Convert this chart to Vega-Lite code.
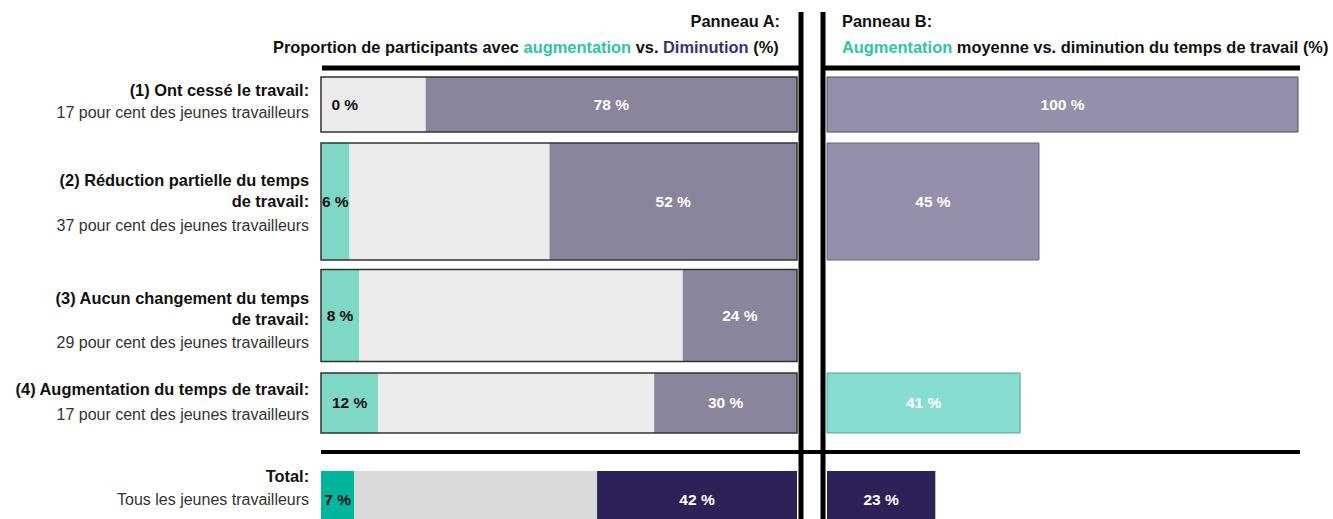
{
"$schema": "https://vega.github.io/schema/vega-lite/v6.json",
"padding": 0,
"spacing": 0,
"bounds": "flush",
"background": "white",
"config": {"view": {"stroke": null}, "font": "Liberation Sans, Arial, sans-serif", "concat": {"spacing": 0}},
"datasets": {
 "panelA": [
  {"row": "1", "cat": "Augmentation", "value": 0}, {"row": "1", "cat": "Aucun changement", "value": 22}, {"row": "1", "cat": "Diminution", "value": 78},
  {"row": "2", "cat": "Augmentation", "value": 6}, {"row": "2", "cat": "Aucun changement", "value": 42}, {"row": "2", "cat": "Diminution", "value": 52},
  {"row": "3", "cat": "Augmentation", "value": 8}, {"row": "3", "cat": "Aucun changement", "value": 68}, {"row": "3", "cat": "Diminution", "value": 24},
  {"row": "4", "cat": "Augmentation", "value": 12}, {"row": "4", "cat": "Aucun changement", "value": 58}, {"row": "4", "cat": "Diminution", "value": 30},
  {"row": "T", "cat": "Augmentation", "value": 7}, {"row": "T", "cat": "Aucun changement", "value": 51}, {"row": "T", "cat": "Diminution", "value": 42}
 ],
 "panelB": [
  {"row": "1", "cat": "Diminution", "value": 100},
  {"row": "2", "cat": "Diminution", "value": 45},
  {"row": "4", "cat": "Augmentation", "value": 41},
  {"row": "T", "cat": "Diminution", "value": 23}
 ],
 "labels": [
  {"row": "1", "title": "(1)  Ont cessé le travail:", "sub": "17 pour cent des jeunes travailleurs"},
  {"row": "2", "title": "(2) Réduction partielle du temps\nde travail:", "sub": "37 pour cent des jeunes travailleurs"},
  {"row": "3", "title": "(3) Aucun changement du temps\nde travail:", "sub": "29 pour cent des jeunes travailleurs"},
  {"row": "4", "title": "(4) Augmentation du temps de travail:", "sub": "17 pour cent des jeunes travailleurs"},
  {"row": "T", "title": "Total:", "sub": "Tous les jeunes travailleurs"}
 ]
},
"vconcat": [
 {
  "width": 1333, "height": 65,
  "resolve": {"scale": {"x": "independent"}},
  "layer": [
   {"data": {"values": [{}]}, "mark": {"type": "text", "text": "Panneau A:", "align": "right", "baseline": "middle", "fontSize": 16.4, "fontWeight": "bold", "color": "#111111"},
    "encoding": {"x": {"datum": 96.43, "type": "quantitative", "scale": {"domain": [-67.437, 212.605], "nice": false, "zero": false}, "axis": null}, "y": {"datum": 22, "type": "quantitative", "scale": {"domain": [0, 65], "reverse": true, "nice": false, "zero": false}, "axis": null}}},
   {"data": {"values": [{}]}, "mark": {"type": "text", "text": "Proportion de participants avec", "align": "left", "baseline": "middle", "fontSize": 16.4, "fontWeight": "bold", "color": "#111111"},
    "encoding": {"x": {"datum": -10.08, "type": "quantitative", "scale": {"domain": [-67.437, 212.605], "nice": false, "zero": false}, "axis": null}, "y": {"datum": 48, "type": "quantitative", "scale": {"domain": [0, 65], "reverse": true, "nice": false, "zero": false}, "axis": null}}},
   {"data": {"values": [{}]}, "mark": {"type": "text", "text": "augmentation", "align": "left", "baseline": "middle", "fontSize": 16.4, "fontWeight": "bold", "color": "#2fc4a8"},
    "encoding": {"x": {"datum": 42.56, "type": "quantitative", "scale": {"domain": [-67.437, 212.605], "nice": false, "zero": false}, "axis": null}, "y": {"datum": 48, "type": "quantitative", "scale": {"domain": [0, 65], "reverse": true, "nice": false, "zero": false}, "axis": null}}},
   {"data": {"values": [{}]}, "mark": {"type": "text", "text": "vs.", "align": "left", "baseline": "middle", "fontSize": 16.4, "fontWeight": "bold", "color": "#111111"},
    "encoding": {"x": {"datum": 66.11, "type": "quantitative", "scale": {"domain": [-67.437, 212.605], "nice": false, "zero": false}, "axis": null}, "y": {"datum": 48, "type": "quantitative", "scale": {"domain": [0, 65], "reverse": true, "nice": false, "zero": false}, "axis": null}}},
   {"data": {"values": [{}]}, "mark": {"type": "text", "text": "Diminution", "align": "left", "baseline": "middle", "fontSize": 16.4, "fontWeight": "bold", "color": "#3d3170"},
    "encoding": {"x": {"datum": 71.85, "type": "quantitative", "scale": {"domain": [-67.437, 212.605], "nice": false, "zero": false}, "axis": null}, "y": {"datum": 48, "type": "quantitative", "scale": {"domain": [0, 65], "reverse": true, "nice": false, "zero": false}, "axis": null}}},
   {"data": {"values": [{}]}, "mark": {"type": "text", "text": "(%)", "align": "left", "baseline": "middle", "fontSize": 16.4, "fontWeight": "bold", "color": "#111111"},
    "encoding": {"x": {"datum": 90.8, "type": "quantitative", "scale": {"domain": [-67.437, 212.605], "nice": false, "zero": false}, "axis": null}, "y": {"datum": 48, "type": "quantitative", "scale": {"domain": [0, 65], "reverse": true, "nice": false, "zero": false}, "axis": null}}},
   {"data": {"values": [{}]}, "mark": {"type": "text", "text": "Panneau B:", "align": "left", "baseline": "middle", "fontSize": 16.4, "fontWeight": "bold", "color": "#111111"},
    "encoding": {"x": {"datum": 3.18, "type": "quantitative", "scale": {"domain": [-175.584, 107.431], "nice": false, "zero": false}, "axis": null}, "y": {"datum": 22, "type": "quantitative", "scale": {"domain": [0, 65], "reverse": true, "nice": false, "zero": false}, "axis": null}}},
   {"data": {"values": [{}]}, "mark": {"type": "text", "text": "Augmentation", "align": "left", "baseline": "middle", "fontSize": 16.4, "fontWeight": "bold", "color": "#2fc4a8"},
    "encoding": {"x": {"datum": 3.18, "type": "quantitative", "scale": {"domain": [-175.584, 107.431], "nice": false, "zero": false}, "axis": null}, "y": {"datum": 48, "type": "quantitative", "scale": {"domain": [0, 65], "reverse": true, "nice": false, "zero": false}, "axis": null}}},
   {"data": {"values": [{}]}, "mark": {"type": "text", "text": "moyenne vs. diminution du temps de travail (%)", "align": "left", "baseline": "middle", "fontSize": 16.4, "fontWeight": "bold", "color": "#111111"},
    "encoding": {"x": {"datum": 27.56, "type": "quantitative", "scale": {"domain": [-175.584, 107.431], "nice": false, "zero": false}, "axis": null}, "y": {"datum": 48, "type": "quantitative", "scale": {"domain": [0, 65], "reverse": true, "nice": false, "zero": false}, "axis": null}}},
   {"data": {"values": [{}]}, "mark": {"type": "rule", "color": "#000000", "strokeWidth": 5},
    "encoding": {"x": {"datum": 100.84, "type": "quantitative", "scale": {"domain": [-67.437, 212.605], "nice": false, "zero": false}, "axis": null}, "y": {"datum": 12, "type": "quantitative", "scale": {"domain": [0, 65], "reverse": true, "nice": false, "zero": false}, "axis": null}, "y2": {"datum": 65}}},
   {"data": {"values": [{}]}, "mark": {"type": "rule", "color": "#000000", "strokeWidth": 5},
    "encoding": {"x": {"datum": -0.85, "type": "quantitative", "scale": {"domain": [-175.584, 107.431], "nice": false, "zero": false}, "axis": null}, "y": {"datum": 12, "type": "quantitative", "scale": {"domain": [0, 65], "reverse": true, "nice": false, "zero": false}, "axis": null}, "y2": {"datum": 65}}}
  ]
 },
 {
  "width": 1333, "height": 6,
  "resolve": {"scale": {"x": "independent"}},
  "layer": [
   {"data": {"values": [{}]}, "mark": {"type": "rule", "color": "#000000", "strokeWidth": 5},
    "encoding": {"x": {"datum": 0.2, "type": "quantitative", "scale": {"domain": [-67.437, 212.605], "nice": false, "zero": false}, "axis": null}, "x2": {"datum": 100.8}}},
   {"data": {"values": [{}]}, "mark": {"type": "rule", "color": "#000000", "strokeWidth": 5},
    "encoding": {"x": {"datum": -1.06, "type": "quantitative", "scale": {"domain": [-175.584, 107.431], "nice": false, "zero": false}, "axis": null}, "x2": {"datum": 100.42}}},
   {"data": {"values": [{}]}, "mark": {"type": "rule", "color": "#000000", "strokeWidth": 5},
    "encoding": {"x": {"datum": 100.84, "type": "quantitative", "scale": {"domain": [-67.437, 212.605], "nice": false, "zero": false}, "axis": null}}},
   {"data": {"values": [{}]}, "mark": {"type": "rule", "color": "#000000", "strokeWidth": 5},
    "encoding": {"x": {"datum": -0.85, "type": "quantitative", "scale": {"domain": [-175.584, 107.431], "nice": false, "zero": false}, "axis": null}}}
  ]
 },
 {
  "width": 1333, "height": 67,
  "resolve": {"scale": {"x": "independent", "color": "independent"}},
  "layer": [
   {"data": {"name": "panelA"}, "transform": [{"filter": "datum.row == '1'"}, {"calculate": "indexof(['Augmentation','Aucun changement','Diminution'], datum.cat)", "as": "k"}],
    "mark": {"type": "bar"},
    "encoding": {"x": {"field": "value", "type": "quantitative", "stack": "zero", "scale": {"domain": [-67.437, 212.605], "nice": false, "zero": false}, "axis": null},
     "y": {"field": "row", "type": "nominal", "axis": null, "scale": {"paddingInner": 0, "paddingOuter": 0.109}},
     "color": {"field": "cat", "type": "nominal", "legend": null, "scale": {"domain": ["Augmentation", "Aucun changement", "Diminution"], "range": ["#7fd7c5", "#ebebeb", "#8a849d"]}},
     "order": {"field": "k", "type": "quantitative"}}},
   {"data": {"name": "labels"}, "transform": [{"filter": "datum.row == '1'"}],
    "mark": {"type": "bar", "fillOpacity": 0, "stroke": "#333333", "strokeWidth": 1.5},
    "encoding": {"x": {"datum": 0, "type": "quantitative", "scale": {"domain": [-67.437, 212.605], "nice": false, "zero": false}, "axis": null}, "x2": {"datum": 100},
     "y": {"field": "row", "type": "nominal", "axis": null, "scale": {"paddingInner": 0, "paddingOuter": 0.109}}}},
   {"data": {"name": "panelA"}, "transform": [{"filter": "datum.row == '1' && datum.cat == 'Augmentation'"}, {"calculate": "datum.value == 0 ? 5 : datum.value / 2", "as": "pos"}, {"calculate": "datum.value + ' %'", "as": "lab"}],
    "mark": {"type": "text", "fontSize": 15.5, "fontWeight": "bold", "color": "#111111", "baseline": "middle"},
    "encoding": {"x": {"field": "pos", "type": "quantitative", "scale": {"domain": [-67.437, 212.605], "nice": false, "zero": false}, "axis": null},
     "y": {"field": "row", "type": "nominal", "axis": null, "scale": {"paddingInner": 0, "paddingOuter": 0.109}}, "text": {"field": "lab", "type": "nominal"}}},
   {"data": {"name": "panelA"}, "transform": [{"filter": "datum.row == '1' && datum.cat == 'Diminution'"}, {"calculate": "100 - datum.value / 2", "as": "pos"}, {"calculate": "datum.value + ' %'", "as": "lab"}],
    "mark": {"type": "text", "fontSize": 15.5, "fontWeight": "bold", "color": "#ffffff", "baseline": "middle"},
    "encoding": {"x": {"field": "pos", "type": "quantitative", "scale": {"domain": [-67.437, 212.605], "nice": false, "zero": false}, "axis": null},
     "y": {"field": "row", "type": "nominal", "axis": null, "scale": {"paddingInner": 0, "paddingOuter": 0.109}}, "text": {"field": "lab", "type": "nominal"}}},
   {"data": {"name": "labels"}, "transform": [{"filter": "datum.row == '1'"}],
    "mark": {"type": "text", "align": "right", "baseline": "middle", "fontSize": 16.4, "fontWeight": "bold", "color": "#111111", "lineBreak": "\n", "lineHeight": 21, "dy": -13.5},
    "encoding": {"x": {"datum": -2.5, "type": "quantitative", "scale": {"domain": [-67.437, 212.605], "nice": false, "zero": false}, "axis": null},
     "y": {"field": "row", "type": "nominal", "axis": null, "scale": {"paddingInner": 0, "paddingOuter": 0.109}}, "text": {"field": "title", "type": "nominal"}}},
   {"data": {"name": "labels"}, "transform": [{"filter": "datum.row == '1'"}],
    "mark": {"type": "text", "align": "right", "baseline": "middle", "fontSize": 16, "color": "#333333", "dy": 8.5},
    "encoding": {"x": {"datum": -2.5, "type": "quantitative", "scale": {"domain": [-67.437, 212.605], "nice": false, "zero": false}, "axis": null},
     "y": {"field": "row", "type": "nominal", "axis": null, "scale": {"paddingInner": 0, "paddingOuter": 0.109}}, "text": {"field": "sub", "type": "nominal"}}},
   {"data": {"name": "panelB"}, "transform": [{"filter": "datum.row == '1'"}],
    "mark": {"type": "bar", "stroke": "#4f4a6e", "strokeWidth": 1},
    "encoding": {"x": {"field": "value", "type": "quantitative", "scale": {"domain": [-175.584, 107.431], "nice": false, "zero": false}, "axis": null},
     "y": {"field": "row", "type": "nominal", "axis": null, "scale": {"paddingInner": 0, "paddingOuter": 0.109}},
     "color": {"field": "cat", "type": "nominal", "legend": null, "scale": {"domain": ["Augmentation", "Diminution"], "range": ["#86ddd0", "#958fab"]}}}},
   {"data": {"name": "panelB"}, "transform": [{"filter": "datum.row == '1'"}, {"calculate": "datum.value / 2", "as": "pos"}, {"calculate": "datum.value + ' %'", "as": "lab"}],
    "mark": {"type": "text", "fontSize": 15.5, "fontWeight": "bold", "color": "#ffffff", "baseline": "middle"},
    "encoding": {"x": {"field": "pos", "type": "quantitative", "scale": {"domain": [-175.584, 107.431], "nice": false, "zero": false}, "axis": null},
     "y": {"field": "row", "type": "nominal", "axis": null, "scale": {"paddingInner": 0, "paddingOuter": 0.109}}, "text": {"field": "lab", "type": "nominal"}}},
   {"data": {"values": [{}]}, "mark": {"type": "rule", "color": "#000000", "strokeWidth": 5},
    "encoding": {"x": {"datum": 100.84, "type": "quantitative", "scale": {"domain": [-67.437, 212.605], "nice": false, "zero": false}, "axis": null}}},
   {"data": {"values": [{}]}, "mark": {"type": "rule", "color": "#000000", "strokeWidth": 5},
    "encoding": {"x": {"datum": -0.85, "type": "quantitative", "scale": {"domain": [-175.584, 107.431], "nice": false, "zero": false}, "axis": null}}}
  ]
 },
 {
  "width": 1333, "height": 127,
  "resolve": {"scale": {"x": "independent", "color": "independent"}},
  "layer": [
   {"data": {"name": "panelA"}, "transform": [{"filter": "datum.row == '2'"}, {"calculate": "indexof(['Augmentation','Aucun changement','Diminution'], datum.cat)", "as": "k"}],
    "mark": {"type": "bar"},
    "encoding": {"x": {"field": "value", "type": "quantitative", "stack": "zero", "scale": {"domain": [-67.437, 212.605], "nice": false, "zero": false}, "axis": null},
     "y": {"field": "row", "type": "nominal", "axis": null, "scale": {"paddingInner": 0, "paddingOuter": 0.0427}},
     "color": {"field": "cat", "type": "nominal", "legend": null, "scale": {"domain": ["Augmentation", "Aucun changement", "Diminution"], "range": ["#7fd7c5", "#ebebeb", "#8a849d"]}},
     "order": {"field": "k", "type": "quantitative"}}},
   {"data": {"name": "labels"}, "transform": [{"filter": "datum.row == '2'"}],
    "mark": {"type": "bar", "fillOpacity": 0, "stroke": "#333333", "strokeWidth": 1.5},
    "encoding": {"x": {"datum": 0, "type": "quantitative", "scale": {"domain": [-67.437, 212.605], "nice": false, "zero": false}, "axis": null}, "x2": {"datum": 100},
     "y": {"field": "row", "type": "nominal", "axis": null, "scale": {"paddingInner": 0, "paddingOuter": 0.0427}}}},
   {"data": {"name": "panelA"}, "transform": [{"filter": "datum.row == '2' && datum.cat == 'Augmentation'"}, {"calculate": "datum.value == 0 ? 5 : datum.value / 2", "as": "pos"}, {"calculate": "datum.value + ' %'", "as": "lab"}],
    "mark": {"type": "text", "fontSize": 15.5, "fontWeight": "bold", "color": "#111111", "baseline": "middle"},
    "encoding": {"x": {"field": "pos", "type": "quantitative", "scale": {"domain": [-67.437, 212.605], "nice": false, "zero": false}, "axis": null},
     "y": {"field": "row", "type": "nominal", "axis": null, "scale": {"paddingInner": 0, "paddingOuter": 0.0427}}, "text": {"field": "lab", "type": "nominal"}}},
   {"data": {"name": "panelA"}, "transform": [{"filter": "datum.row == '2' && datum.cat == 'Diminution'"}, {"calculate": "100 - datum.value / 2", "as": "pos"}, {"calculate": "datum.value + ' %'", "as": "lab"}],
    "mark": {"type": "text", "fontSize": 15.5, "fontWeight": "bold", "color": "#ffffff", "baseline": "middle"},
    "encoding": {"x": {"field": "pos", "type": "quantitative", "scale": {"domain": [-67.437, 212.605], "nice": false, "zero": false}, "axis": null},
     "y": {"field": "row", "type": "nominal", "axis": null, "scale": {"paddingInner": 0, "paddingOuter": 0.0427}}, "text": {"field": "lab", "type": "nominal"}}},
   {"data": {"name": "labels"}, "transform": [{"filter": "datum.row == '2'"}],
    "mark": {"type": "text", "align": "right", "baseline": "middle", "fontSize": 16.4, "fontWeight": "bold", "color": "#111111", "lineBreak": "\n", "lineHeight": 21, "dy": -20.5},
    "encoding": {"x": {"datum": -2.5, "type": "quantitative", "scale": {"domain": [-67.437, 212.605], "nice": false, "zero": false}, "axis": null},
     "y": {"field": "row", "type": "nominal", "axis": null, "scale": {"paddingInner": 0, "paddingOuter": 0.0427}}, "text": {"field": "title", "type": "nominal"}}},
   {"data": {"name": "labels"}, "transform": [{"filter": "datum.row == '2'"}],
    "mark": {"type": "text", "align": "right", "baseline": "middle", "fontSize": 16, "color": "#333333", "dy": 24.5},
    "encoding": {"x": {"datum": -2.5, "type": "quantitative", "scale": {"domain": [-67.437, 212.605], "nice": false, "zero": false}, "axis": null},
     "y": {"field": "row", "type": "nominal", "axis": null, "scale": {"paddingInner": 0, "paddingOuter": 0.0427}}, "text": {"field": "sub", "type": "nominal"}}},
   {"data": {"name": "panelB"}, "transform": [{"filter": "datum.row == '2'"}],
    "mark": {"type": "bar", "stroke": "#6a6580", "strokeWidth": 1},
    "encoding": {"x": {"field": "value", "type": "quantitative", "scale": {"domain": [-175.584, 107.431], "nice": false, "zero": false}, "axis": null},
     "y": {"field": "row", "type": "nominal", "axis": null, "scale": {"paddingInner": 0, "paddingOuter": 0.0427}},
     "color": {"field": "cat", "type": "nominal", "legend": null, "scale": {"domain": ["Augmentation", "Diminution"], "range": ["#86ddd0", "#958fab"]}}}},
   {"data": {"name": "panelB"}, "transform": [{"filter": "datum.row == '2'"}, {"calculate": "datum.value / 2", "as": "pos"}, {"calculate": "datum.value + ' %'", "as": "lab"}],
    "mark": {"type": "text", "fontSize": 15.5, "fontWeight": "bold", "color": "#ffffff", "baseline": "middle"},
    "encoding": {"x": {"field": "pos", "type": "quantitative", "scale": {"domain": [-175.584, 107.431], "nice": false, "zero": false}, "axis": null},
     "y": {"field": "row", "type": "nominal", "axis": null, "scale": {"paddingInner": 0, "paddingOuter": 0.0427}}, "text": {"field": "lab", "type": "nominal"}}},
   {"data": {"values": [{}]}, "mark": {"type": "rule", "color": "#000000", "strokeWidth": 5},
    "encoding": {"x": {"datum": 100.84, "type": "quantitative", "scale": {"domain": [-67.437, 212.605], "nice": false, "zero": false}, "axis": null}}},
   {"data": {"values": [{}]}, "mark": {"type": "rule", "color": "#000000", "strokeWidth": 5},
    "encoding": {"x": {"datum": -0.85, "type": "quantitative", "scale": {"domain": [-175.584, 107.431], "nice": false, "zero": false}, "axis": null}}}
  ]
 },
 {
  "width": 1333, "height": 101,
  "resolve": {"scale": {"x": "independent", "color": "independent"}},
  "layer": [
   {"data": {"name": "panelA"}, "transform": [{"filter": "datum.row == '3'"}, {"calculate": "indexof(['Augmentation','Aucun changement','Diminution'], datum.cat)", "as": "k"}],
    "mark": {"type": "bar"},
    "encoding": {"x": {"field": "value", "type": "quantitative", "stack": "zero", "scale": {"domain": [-67.437, 212.605], "nice": false, "zero": false}, "axis": null},
     "y": {"field": "row", "type": "nominal", "axis": null, "scale": {"paddingInner": 0, "paddingOuter": 0.0489}},
     "color": {"field": "cat", "type": "nominal", "legend": null, "scale": {"domain": ["Augmentation", "Aucun changement", "Diminution"], "range": ["#7fd7c5", "#ebebeb", "#8a849d"]}},
     "order": {"field": "k", "type": "quantitative"}}},
   {"data": {"name": "labels"}, "transform": [{"filter": "datum.row == '3'"}],
    "mark": {"type": "bar", "fillOpacity": 0, "stroke": "#333333", "strokeWidth": 1.5},
    "encoding": {"x": {"datum": 0, "type": "quantitative", "scale": {"domain": [-67.437, 212.605], "nice": false, "zero": false}, "axis": null}, "x2": {"datum": 100},
     "y": {"field": "row", "type": "nominal", "axis": null, "scale": {"paddingInner": 0, "paddingOuter": 0.0489}}}},
   {"data": {"name": "panelA"}, "transform": [{"filter": "datum.row == '3' && datum.cat == 'Augmentation'"}, {"calculate": "datum.value == 0 ? 5 : datum.value / 2", "as": "pos"}, {"calculate": "datum.value + ' %'", "as": "lab"}],
    "mark": {"type": "text", "fontSize": 15.5, "fontWeight": "bold", "color": "#111111", "baseline": "middle"},
    "encoding": {"x": {"field": "pos", "type": "quantitative", "scale": {"domain": [-67.437, 212.605], "nice": false, "zero": false}, "axis": null},
     "y": {"field": "row", "type": "nominal", "axis": null, "scale": {"paddingInner": 0, "paddingOuter": 0.0489}}, "text": {"field": "lab", "type": "nominal"}}},
   {"data": {"name": "panelA"}, "transform": [{"filter": "datum.row == '3' && datum.cat == 'Diminution'"}, {"calculate": "100 - datum.value / 2", "as": "pos"}, {"calculate": "datum.value + ' %'", "as": "lab"}],
    "mark": {"type": "text", "fontSize": 15.5, "fontWeight": "bold", "color": "#ffffff", "baseline": "middle"},
    "encoding": {"x": {"field": "pos", "type": "quantitative", "scale": {"domain": [-67.437, 212.605], "nice": false, "zero": false}, "axis": null},
     "y": {"field": "row", "type": "nominal", "axis": null, "scale": {"paddingInner": 0, "paddingOuter": 0.0489}}, "text": {"field": "lab", "type": "nominal"}}},
   {"data": {"name": "labels"}, "transform": [{"filter": "datum.row == '3'"}],
    "mark": {"type": "text", "align": "right", "baseline": "middle", "fontSize": 16.4, "fontWeight": "bold", "color": "#111111", "lineBreak": "\n", "lineHeight": 21, "dy": -16.5},
    "encoding": {"x": {"datum": -2.5, "type": "quantitative", "scale": {"domain": [-67.437, 212.605], "nice": false, "zero": false}, "axis": null},
     "y": {"field": "row", "type": "nominal", "axis": null, "scale": {"paddingInner": 0, "paddingOuter": 0.0489}}, "text": {"field": "title", "type": "nominal"}}},
   {"data": {"name": "labels"}, "transform": [{"filter": "datum.row == '3'"}],
    "mark": {"type": "text", "align": "right", "baseline": "middle", "fontSize": 16, "color": "#333333", "dy": 27.5},
    "encoding": {"x": {"datum": -2.5, "type": "quantitative", "scale": {"domain": [-67.437, 212.605], "nice": false, "zero": false}, "axis": null},
     "y": {"field": "row", "type": "nominal", "axis": null, "scale": {"paddingInner": 0, "paddingOuter": 0.0489}}, "text": {"field": "sub", "type": "nominal"}}},
   {"data": {"values": [{}]}, "mark": {"type": "rule", "color": "#000000", "strokeWidth": 5},
    "encoding": {"x": {"datum": 100.84, "type": "quantitative", "scale": {"domain": [-67.437, 212.605], "nice": false, "zero": false}, "axis": null}}},
   {"data": {"values": [{}]}, "mark": {"type": "rule", "color": "#000000", "strokeWidth": 5},
    "encoding": {"x": {"datum": -0.85, "type": "quantitative", "scale": {"domain": [-175.584, 107.431], "nice": false, "zero": false}, "axis": null}}}
  ]
 },
 {
  "width": 1333, "height": 74,
  "resolve": {"scale": {"x": "independent", "color": "independent"}},
  "layer": [
   {"data": {"name": "panelA"}, "transform": [{"filter": "datum.row == '4'"}, {"calculate": "indexof(['Augmentation','Aucun changement','Diminution'], datum.cat)", "as": "k"}],
    "mark": {"type": "bar"},
    "encoding": {"x": {"field": "value", "type": "quantitative", "stack": "zero", "scale": {"domain": [-67.437, 212.605], "nice": false, "zero": false}, "axis": null},
     "y": {"field": "row", "type": "nominal", "axis": null, "scale": {"paddingInner": 0, "paddingOuter": 0.1167}},
     "color": {"field": "cat", "type": "nominal", "legend": null, "scale": {"domain": ["Augmentation", "Aucun changement", "Diminution"], "range": ["#7fd7c5", "#ebebeb", "#8a849d"]}},
     "order": {"field": "k", "type": "quantitative"}}},
   {"data": {"name": "labels"}, "transform": [{"filter": "datum.row == '4'"}],
    "mark": {"type": "bar", "fillOpacity": 0, "stroke": "#333333", "strokeWidth": 1.5},
    "encoding": {"x": {"datum": 0, "type": "quantitative", "scale": {"domain": [-67.437, 212.605], "nice": false, "zero": false}, "axis": null}, "x2": {"datum": 100},
     "y": {"field": "row", "type": "nominal", "axis": null, "scale": {"paddingInner": 0, "paddingOuter": 0.1167}}}},
   {"data": {"name": "panelA"}, "transform": [{"filter": "datum.row == '4' && datum.cat == 'Augmentation'"}, {"calculate": "datum.value == 0 ? 5 : datum.value / 2", "as": "pos"}, {"calculate": "datum.value + ' %'", "as": "lab"}],
    "mark": {"type": "text", "fontSize": 15.5, "fontWeight": "bold", "color": "#111111", "baseline": "middle"},
    "encoding": {"x": {"field": "pos", "type": "quantitative", "scale": {"domain": [-67.437, 212.605], "nice": false, "zero": false}, "axis": null},
     "y": {"field": "row", "type": "nominal", "axis": null, "scale": {"paddingInner": 0, "paddingOuter": 0.1167}}, "text": {"field": "lab", "type": "nominal"}}},
   {"data": {"name": "panelA"}, "transform": [{"filter": "datum.row == '4' && datum.cat == 'Diminution'"}, {"calculate": "100 - datum.value / 2", "as": "pos"}, {"calculate": "datum.value + ' %'", "as": "lab"}],
    "mark": {"type": "text", "fontSize": 15.5, "fontWeight": "bold", "color": "#ffffff", "baseline": "middle"},
    "encoding": {"x": {"field": "pos", "type": "quantitative", "scale": {"domain": [-67.437, 212.605], "nice": false, "zero": false}, "axis": null},
     "y": {"field": "row", "type": "nominal", "axis": null, "scale": {"paddingInner": 0, "paddingOuter": 0.1167}}, "text": {"field": "lab", "type": "nominal"}}},
   {"data": {"name": "labels"}, "transform": [{"filter": "datum.row == '4'"}],
    "mark": {"type": "text", "align": "right", "baseline": "middle", "fontSize": 16.4, "fontWeight": "bold", "color": "#111111", "lineBreak": "\n", "lineHeight": 21, "dy": -13},
    "encoding": {"x": {"datum": -2.5, "type": "quantitative", "scale": {"domain": [-67.437, 212.605], "nice": false, "zero": false}, "axis": null},
     "y": {"field": "row", "type": "nominal", "axis": null, "scale": {"paddingInner": 0, "paddingOuter": 0.1167}}, "text": {"field": "title", "type": "nominal"}}},
   {"data": {"name": "labels"}, "transform": [{"filter": "datum.row == '4'"}],
    "mark": {"type": "text", "align": "right", "baseline": "middle", "fontSize": 16, "color": "#333333", "dy": 12},
    "encoding": {"x": {"datum": -2.5, "type": "quantitative", "scale": {"domain": [-67.437, 212.605], "nice": false, "zero": false}, "axis": null},
     "y": {"field": "row", "type": "nominal", "axis": null, "scale": {"paddingInner": 0, "paddingOuter": 0.1167}}, "text": {"field": "sub", "type": "nominal"}}},
   {"data": {"name": "panelB"}, "transform": [{"filter": "datum.row == '4'"}],
    "mark": {"type": "bar", "stroke": "#5f9e93", "strokeWidth": 1},
    "encoding": {"x": {"field": "value", "type": "quantitative", "scale": {"domain": [-175.584, 107.431], "nice": false, "zero": false}, "axis": null},
     "y": {"field": "row", "type": "nominal", "axis": null, "scale": {"paddingInner": 0, "paddingOuter": 0.1167}},
     "color": {"field": "cat", "type": "nominal", "legend": null, "scale": {"domain": ["Augmentation", "Diminution"], "range": ["#86ddd0", "#958fab"]}}}},
   {"data": {"name": "panelB"}, "transform": [{"filter": "datum.row == '4'"}, {"calculate": "datum.value / 2", "as": "pos"}, {"calculate": "datum.value + ' %'", "as": "lab"}],
    "mark": {"type": "text", "fontSize": 15.5, "fontWeight": "bold", "color": "#ffffff", "baseline": "middle"},
    "encoding": {"x": {"field": "pos", "type": "quantitative", "scale": {"domain": [-175.584, 107.431], "nice": false, "zero": false}, "axis": null},
     "y": {"field": "row", "type": "nominal", "axis": null, "scale": {"paddingInner": 0, "paddingOuter": 0.1167}}, "text": {"field": "lab", "type": "nominal"}}},
   {"data": {"values": [{}]}, "mark": {"type": "rule", "color": "#000000", "strokeWidth": 5},
    "encoding": {"x": {"datum": 100.84, "type": "quantitative", "scale": {"domain": [-67.437, 212.605], "nice": false, "zero": false}, "axis": null}}},
   {"data": {"values": [{}]}, "mark": {"type": "rule", "color": "#000000", "strokeWidth": 5},
    "encoding": {"x": {"datum": -0.85, "type": "quantitative", "scale": {"domain": [-175.584, 107.431], "nice": false, "zero": false}, "axis": null}}}
  ]
 },
 {
  "width": 1333, "height": 24,
  "resolve": {"scale": {"x": "independent"}},
  "layer": [
   {"data": {"values": [{}]}, "mark": {"type": "rule", "color": "#000000", "strokeWidth": 4},
    "encoding": {"x": {"datum": 0, "type": "quantitative", "scale": {"domain": [-67.437, 212.605], "nice": false, "zero": false}, "axis": null}, "x2": {"datum": 205.67}}},
   {"data": {"values": [{}]}, "mark": {"type": "rule", "color": "#000000", "strokeWidth": 5},
    "encoding": {"x": {"datum": 100.84, "type": "quantitative", "scale": {"domain": [-67.437, 212.605], "nice": false, "zero": false}, "axis": null}}},
   {"data": {"values": [{}]}, "mark": {"type": "rule", "color": "#000000", "strokeWidth": 5},
    "encoding": {"x": {"datum": -0.85, "type": "quantitative", "scale": {"domain": [-175.584, 107.431], "nice": false, "zero": false}, "axis": null}}}
  ]
 },
 {
  "width": 1333, "height": 55,
  "resolve": {"scale": {"x": "independent", "color": "independent"}},
  "layer": [
   {"data": {"name": "panelA"}, "transform": [{"filter": "datum.row == 'T'"}, {"calculate": "indexof(['Augmentation','Aucun changement','Diminution'], datum.cat)", "as": "k"}],
    "mark": {"type": "bar", "clip": true},
    "encoding": {"x": {"field": "value", "type": "quantitative", "stack": "zero", "scale": {"domain": [-67.437, 212.605], "nice": false, "zero": false}, "axis": null},
     "y": {"field": "row", "type": "nominal", "axis": null, "scale": {"range": [0, 72], "paddingInner": 0, "paddingOuter": 0.1207}},
     "color": {"field": "cat", "type": "nominal", "legend": null, "scale": {"domain": ["Augmentation", "Aucun changement", "Diminution"], "range": ["#00b59b", "#d9d9d9", "#2d2157"]}},
     "order": {"field": "k", "type": "quantitative"}}},
   {"data": {"name": "panelA"}, "transform": [{"filter": "datum.row == 'T' && datum.cat == 'Augmentation'"}, {"calculate": "datum.value == 0 ? 5 : datum.value / 2", "as": "pos"}, {"calculate": "datum.value + ' %'", "as": "lab"}],
    "mark": {"type": "text", "fontSize": 15.5, "fontWeight": "bold", "color": "#111111", "baseline": "middle"},
    "encoding": {"x": {"field": "pos", "type": "quantitative", "scale": {"domain": [-67.437, 212.605], "nice": false, "zero": false}, "axis": null},
     "y": {"field": "row", "type": "nominal", "axis": null, "scale": {"range": [0, 72], "paddingInner": 0, "paddingOuter": 0.1207}}, "text": {"field": "lab", "type": "nominal"}}},
   {"data": {"name": "panelA"}, "transform": [{"filter": "datum.row == 'T' && datum.cat == 'Diminution'"}, {"calculate": "100 - datum.value / 2", "as": "pos"}, {"calculate": "datum.value + ' %'", "as": "lab"}],
    "mark": {"type": "text", "fontSize": 15.5, "fontWeight": "bold", "color": "#ffffff", "baseline": "middle"},
    "encoding": {"x": {"field": "pos", "type": "quantitative", "scale": {"domain": [-67.437, 212.605], "nice": false, "zero": false}, "axis": null},
     "y": {"field": "row", "type": "nominal", "axis": null, "scale": {"range": [0, 72], "paddingInner": 0, "paddingOuter": 0.1207}}, "text": {"field": "lab", "type": "nominal"}}},
   {"data": {"name": "labels"}, "transform": [{"filter": "datum.row == 'T'"}],
    "mark": {"type": "text", "align": "right", "baseline": "middle", "fontSize": 16.4, "fontWeight": "bold", "color": "#111111", "lineBreak": "\n", "lineHeight": 21, "dy": -23},
    "encoding": {"x": {"datum": -2.5, "type": "quantitative", "scale": {"domain": [-67.437, 212.605], "nice": false, "zero": false}, "axis": null},
     "y": {"field": "row", "type": "nominal", "axis": null, "scale": {"range": [0, 72], "paddingInner": 0, "paddingOuter": 0.1207}}, "text": {"field": "title", "type": "nominal"}}},
   {"data": {"name": "labels"}, "transform": [{"filter": "datum.row == 'T'"}],
    "mark": {"type": "text", "align": "right", "baseline": "middle", "fontSize": 16, "color": "#333333", "dy": 0},
    "encoding": {"x": {"datum": -2.5, "type": "quantitative", "scale": {"domain": [-67.437, 212.605], "nice": false, "zero": false}, "axis": null},
     "y": {"field": "row", "type": "nominal", "axis": null, "scale": {"range": [0, 72], "paddingInner": 0, "paddingOuter": 0.1207}}, "text": {"field": "sub", "type": "nominal"}}},
   {"data": {"name": "panelB"}, "transform": [{"filter": "datum.row == 'T'"}],
    "mark": {"type": "bar", "clip": true},
    "encoding": {"x": {"field": "value", "type": "quantitative", "scale": {"domain": [-175.584, 107.431], "nice": false, "zero": false}, "axis": null},
     "y": {"field": "row", "type": "nominal", "axis": null, "scale": {"range": [0, 72], "paddingInner": 0, "paddingOuter": 0.1207}},
     "color": {"field": "cat", "type": "nominal", "legend": null, "scale": {"domain": ["Augmentation", "Diminution"], "range": ["#00b59b", "#2d2157"]}}}},
   {"data": {"name": "panelB"}, "transform": [{"filter": "datum.row == 'T'"}, {"calculate": "datum.value / 2", "as": "pos"}, {"calculate": "datum.value + ' %'", "as": "lab"}],
    "mark": {"type": "text", "fontSize": 15.5, "fontWeight": "bold", "color": "#ffffff", "baseline": "middle"},
    "encoding": {"x": {"field": "pos", "type": "quantitative", "scale": {"domain": [-175.584, 107.431], "nice": false, "zero": false}, "axis": null},
     "y": {"field": "row", "type": "nominal", "axis": null, "scale": {"range": [0, 72], "paddingInner": 0, "paddingOuter": 0.1207}}, "text": {"field": "lab", "type": "nominal"}}},
   {"data": {"values": [{}]}, "mark": {"type": "rule", "color": "#000000", "strokeWidth": 5},
    "encoding": {"x": {"datum": 100.84, "type": "quantitative", "scale": {"domain": [-67.437, 212.605], "nice": false, "zero": false}, "axis": null}}},
   {"data": {"values": [{}]}, "mark": {"type": "rule", "color": "#000000", "strokeWidth": 5},
    "encoding": {"x": {"datum": -0.85, "type": "quantitative", "scale": {"domain": [-175.584, 107.431], "nice": false, "zero": false}, "axis": null}}}
  ]
 }
]
}
